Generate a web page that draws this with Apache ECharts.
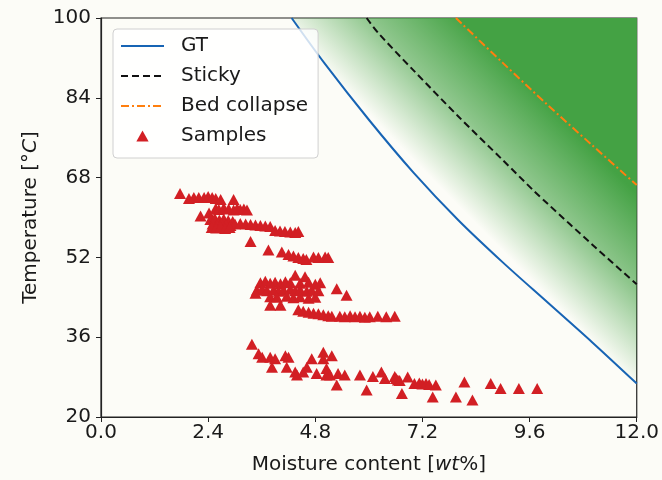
<!DOCTYPE html>
<html>
<head>
<meta charset="utf-8">
<script src="https://cdn.jsdelivr.net/npm/echarts@6/dist/echarts.min.js"></script>
<style>
  html, body { margin: 0; padding: 0; background: #fcfcf7; }
  #chart { width: 662px; height: 480px; }
</style>
</head>
<body>
<div id="chart"></div>
<script>
// boundary curves: moisture [wt%] -> temperature [°C]
var gtMoisture = [4.27, 5, 6, 7, 8, 9, 10, 11, 12];
var gtTemp = [100, 91, 79.6, 69, 59.5, 51, 43, 35, 26.7];

var stickyMoisture = [5.95, 6.21, 7, 8, 9, 9.7, 10, 11, 12];
var stickyTemp = [100, 97, 89.5, 80.3, 71.5, 65.3, 62.8, 54.6, 46.6];

var collapseMoisture = [7.95, 9, 10, 11, 12];
var collapseTemp = [100, 91, 82.6, 74.5, 66.5];

// measured samples
var sampleMoisture = [
  // upper group
  1.77, 1.97, 2.08, 2.19, 2.31, 2.40, 2.49, 2.57, 2.68, 2.97,
  2.57, 2.64, 2.75, 2.86, 2.97, 3.05, 3.12, 3.20, 3.27, 2.23, 2.42,
  2.45, 2.55, 2.65, 2.75, 2.85, 2.95, 2.50, 2.60, 2.70, 2.80, 2.90, 3.00, 2.48, 2.58, 2.68, 2.78, 2.88,
  3.12, 3.24, 3.35, 3.46, 3.57, 3.68, 3.79, 3.90, 4.01, 4.12, 4.24, 4.35, 4.42,
  3.35, 3.75, 4.05, 4.20, 4.31, 4.42, 4.53, 4.60, 4.76, 4.87, 5.02, 5.09,
  // middle group
  4.35, 4.57,
  3.57, 3.68, 3.79, 3.90, 4.02, 4.13, 4.24, 4.46, 4.65, 4.80, 4.91,
  3.49, 3.61, 3.72, 3.87, 3.98, 4.09, 4.24, 4.35, 4.46, 4.61, 4.72, 4.87,
  3.46, 5.28, 5.50,
  3.79, 3.94, 4.16, 4.31, 4.46, 4.65, 4.80,
  3.79, 4.02,
  4.42, 4.53, 4.65, 4.76, 4.87, 4.98, 5.09, 5.17,
  5.35, 5.46, 5.58, 5.69, 5.80, 5.91, 6.02, 6.20, 6.39, 6.58,
  // lower group
  3.38, 3.53, 3.61, 3.79, 3.90, 3.83, 4.13, 4.20, 4.16, 4.35, 4.39, 4.53, 4.61, 4.72, 4.83,
  4.98, 4.98, 5.17, 5.05, 5.05, 5.13, 5.31, 5.46, 5.28, 5.80, 5.95, 6.09, 6.28, 6.36,
  6.58, 6.65, 6.61, 6.69, 6.87, 6.74, 7.02, 7.13, 7.20, 7.28, 7.35, 7.50, 7.43,
  8.14, 7.95, 8.32, 8.73, 8.95, 9.36, 9.77
];
var sampleTemp = [
  64.8, 63.8, 64.0, 64.0, 64.0, 64.2, 64.0, 63.8, 63.6, 63.6,
  61.8, 61.6, 61.9, 61.7, 61.5, 61.8, 61.6, 61.7, 61.5, 60.3, 60.9,
  59.6, 59.8, 59.5, 59.7, 59.4, 59.2, 58.7, 58.5, 58.8, 58.6, 58.4, 58.7, 58.0, 57.9, 58.1, 57.8, 58.0,
  58.8, 58.7, 58.6, 58.5, 58.4, 58.3, 58.2, 57.4, 57.3, 57.2, 57.1, 57.0, 57.2,
  55.2, 53.5, 53.1, 52.6, 52.3, 52.0, 51.8, 51.6, 52.1, 52.0, 52.1, 52.0,
  48.4, 48.1,
  46.9, 47.2, 46.8, 47.0, 46.7, 47.1, 46.9, 46.8, 47.0, 46.6, 46.9,
  45.4, 45.6, 45.3, 45.5, 45.2, 45.4, 45.6, 45.3, 45.5, 45.2, 45.4, 45.3,
  44.8, 45.7, 44.4,
  44.1, 44.0, 44.2, 43.9, 44.1, 43.8, 44.0,
  42.4, 42.4,
  41.5, 41.2, 41.0, 40.8, 40.7, 40.5, 40.3, 40.2,
  40.2, 40.1, 40.3, 40.1, 40.2, 40.0, 40.1, 40.2, 40.1, 40.2,
  34.6, 32.7, 32.0, 32.0, 31.7, 30.0, 32.3, 32.0, 30.0, 29.0, 28.4, 29.0, 30.0, 31.7, 28.7,
  33.0, 31.7, 32.3, 29.7, 28.4, 28.4, 28.7, 28.4, 26.4, 28.4, 25.4, 28.1, 29.0, 27.7,
  28.1, 27.4, 27.7, 27.3, 28.0, 24.7, 26.7, 26.8, 26.6, 26.7, 26.5, 26.4, 24.0,
  27.0, 24.0, 23.4, 26.7, 25.7, 25.7, 25.7
];

var xTicks = [0, 2.4, 4.8, 7.2, 9.6, 12];
var yTicks = [20, 36, 52, 68, 84, 100];

function pairs(xs, ys) {
  return xs.map(function (x, i) { return [x, ys[i]]; });
}

var green = '#44a244';
var font = 'DejaVu Sans';
var ink = '#1a1a1a';

var chart = echarts.init(document.getElementById('chart'), null, { renderer: 'canvas' });

var option = {
  backgroundColor: '#fcfcf7',
  animation: false,
  textStyle: { fontFamily: font, color: ink },
  grid: {
    left: 101, right: 22, top: 18, bottom: 58,
    show: true, borderColor: '#222', borderWidth: 1.2, backgroundColor: 'transparent'
  },
  legend: {
    orient: 'vertical',
    left: 113, top: 29,
    padding: [6, 10, 11, 7],
    itemGap: 8,
    itemWidth: 43,
    itemHeight: 11,
    backgroundColor: 'rgba(255,255,255,0.8)',
    borderColor: '#d0d0d0',
    borderWidth: 1,
    borderRadius: 4,
    textStyle: { fontFamily: font, fontSize: 20, color: ink, lineHeight: 22, padding: [0, 0, 0, 12] },
    data: [
      // hide the marker that line series put in the middle of their legend icon
      { name: 'GT', itemStyle: { opacity: 0 } },
      { name: 'Sticky', itemStyle: { opacity: 0 } },
      { name: 'Bed collapse', itemStyle: { opacity: 0 } },
      { name: 'Samples', icon: 'path://M5,0L10,9L0,9Z' }
    ]
  },
  xAxis: {
    type: 'value',
    min: xTicks[0], max: xTicks[xTicks.length - 1], interval: 2.4,
    name: 'Moisture content [{i|wt}%]',
    nameLocation: 'middle', nameGap: 38,
    nameTextStyle: {
      fontFamily: font, fontSize: 20, color: ink,
      rich: { i: { fontStyle: 'italic', fontFamily: font, fontSize: 20, color: ink } }
    },
    axisLine: { show: true, onZero: false, lineStyle: { color: '#222', width: 1.2 } },
    axisTick: { show: true, length: 5, lineStyle: { color: '#222' } },
    axisLabel: {
      fontFamily: font, fontSize: 20, color: ink, margin: 6,
      formatter: function (v) { return v.toFixed(1); }
    },
    splitLine: { show: false }
  },
  yAxis: {
    type: 'value',
    min: yTicks[0], max: yTicks[yTicks.length - 1], interval: 16,
    name: 'Temperature [°{i|C}]',
    nameLocation: 'middle', nameGap: 60, nameRotate: 90,
    nameTextStyle: {
      fontFamily: font, fontSize: 20, color: ink,
      rich: { i: { fontStyle: 'italic', fontFamily: font, fontSize: 20, color: ink } }
    },
    axisLine: { show: true, lineStyle: { color: '#222', width: 1.2 } },
    axisTick: { show: true, length: 5, lineStyle: { color: '#222' } },
    axisLabel: { fontFamily: font, fontSize: 20, color: ink, margin: 10 },
    splitLine: { show: false }
  },
  series: [
    {
      name: 'GT',
      type: 'line',
      data: pairs(gtMoisture, gtTemp),
      symbol: 'none',
      smooth: 0.3,
      lineStyle: { color: '#1764b4', width: 2 },
      itemStyle: { color: '#1764b4' },
      areaStyle: {
        origin: 'end',
        opacity: 1,
        color: new echarts.graphic.LinearGradient(445, 192, 542, 97, [
          { offset: 0, color: 'rgba(68,162,68,0)' },
          { offset: 0.5, color: 'rgba(68,162,68,0.6)' },
          { offset: 1, color: 'rgba(68,162,68,1)' }
        ], true)
      },
      z: 2
    },
    {
      name: 'Sticky',
      type: 'line',
      data: pairs(stickyMoisture, stickyTemp),
      symbol: 'none',
      smooth: 0.3,
      lineStyle: { color: '#111', width: 2, type: [7, 4] },
      itemStyle: { color: '#111' },
      z: 3
    },
    {
      name: 'Bed collapse',
      type: 'line',
      data: pairs(collapseMoisture, collapseTemp),
      symbol: 'none',
      smooth: 0.3,
      lineStyle: { color: '#ff7f0e', width: 2, type: [8, 3, 2, 3] },
      itemStyle: { color: '#ff7f0e' },
      areaStyle: { origin: 'end', color: green, opacity: 1 },
      z: 3
    },
    {
      name: 'Samples',
      type: 'scatter',
      data: pairs(sampleMoisture, sampleTemp),
      symbol: 'triangle',
      symbolSize: [12, 11],
      itemStyle: { color: '#d21f24', opacity: 1 },
      z: 4
    }
  ]
};

chart.setOption(option);
</script>
</body>
</html>
